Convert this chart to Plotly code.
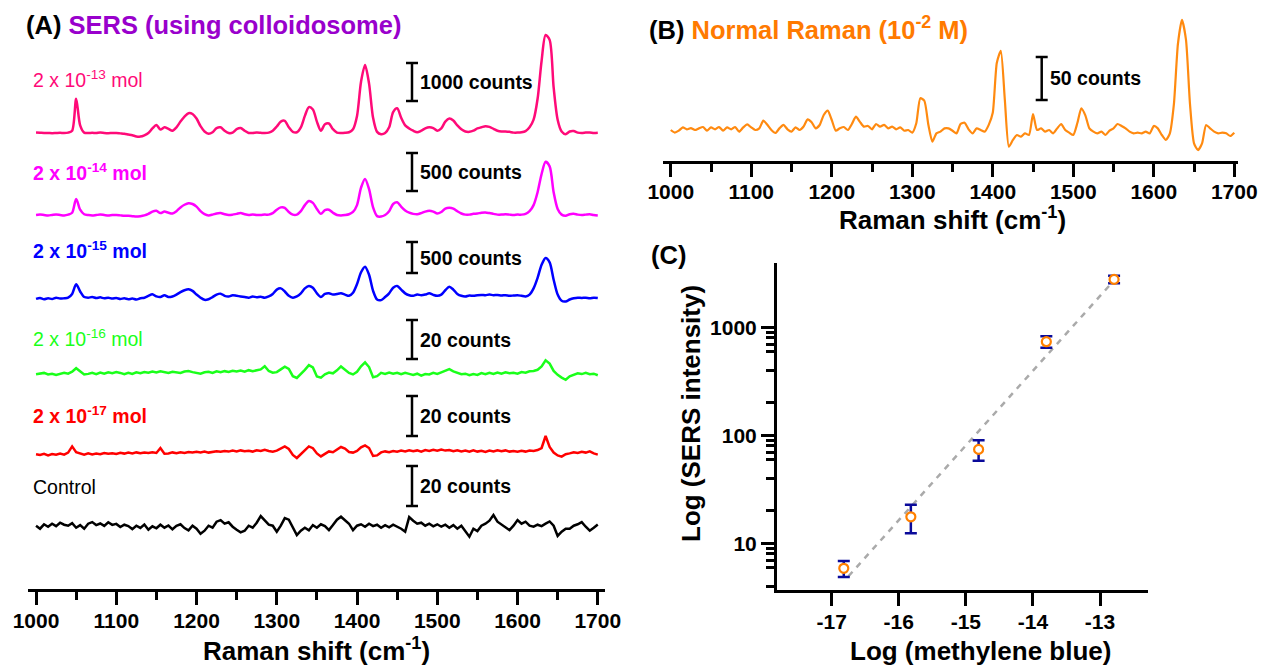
import numpy as np
import plotly.graph_objects as go

W, H = 1263, 666
FONT = "Liberation Sans, Arial, sans-serif"

# ---------------- data ----------------
raman_shift = list(range(1000, 1701, 5))

sers_2e13 = [
    10, 5, 0, 0, -5, 0, 5, 0, 10, 60,
    900, 200, 10, 0, 5, 0, 10, 0, -5, 0,
    0, -10, -20, -40, -60, -90, -95, -60, 0, 120,
    210, 90, 150, 110, 60, 150, 300, 430, 520, 500,
    380, 180, 40, -20, 20, 130, 150, 60, 0, 10,
    100, 130, 60, 0, 0, 10, 5, 0, 10, 60,
    170, 300, 320, 150, 30, 20, 150, 450, 680, 620,
    300, 60, 230, 250, 100, 10, 0, 5, 20, 100,
    450, 1350, 1790, 1300, 400, 30, -30, 0, 150, 550,
    650, 400, 200, 120, 60, 20, 60, 120, 150, 130,
    60, 120, 300, 380, 330, 200, 100, 40, 30, 60,
    120, 150, 180, 160, 110, 60, 40, 40, 30, 10,
    10, 20, 50, 150, 350, 900, 1900, 2580, 2450, 1200,
    350, 40, -30, 40, 50, 10, 0, 10, 15, 0, 5,
]
sers_2e14 = [
    0, 5, 0, -5, 0, 5, 0, -5, 5, 30,
    210, 70, 10, 0, -5, 0, 5, 0, -5, 0,
    0, -5, -10, -10, -15, -20, -15, -5, 15, 45,
    55, 25, 45, 30, 20, 50, 100, 135, 155, 145,
    110, 50, 10, -5, 5, 20, 25, 10, 0, 5,
    15, 25, 10, 0, 5, 0, 0, 5, 5, 25,
    70, 100, 95, 40, 5, 5, 50, 130, 185, 160,
    80, 15, 65, 70, 30, 0, -5, 0, 10, 40,
    130, 360, 475, 340, 100, -15, -20, 0, 50, 145,
    168, 110, 60, 30, 15, 10, 25, 45, 55, 45,
    20, 40, 85, 96, 85, 50, 20, 5, 5, 15,
    20, 30, 33, 25, 15, 5, 5, 10, 5, 0,
    5, 5, 15, 50, 130, 300, 540, 700, 640, 300,
    80, 5, -10, 10, 15, 5, 0, 5, 10, 0, -5,
]
sers_2e15 = [
    -10, 5, -15, 0, -10, 10, -5, 0, 10, 70,
    225, 110, 20, 10, 20, 5, 15, 0, 10, -5,
    5, -10, 0, -15, -5, -20, 0, 10, 40, 65,
    30, 20, 50, 20, 30, 60, 100, 130, 145, 120,
    60, 10, -25, -15, 20, 60, 75, 40, 30, 50,
    40, 30, 20, 10, 30, 15, 25, 10, 30, 70,
    140, 160, 110, 40, 10, 30, 80, 160, 200, 170,
    80, 20, 70, 80, 60, 70, 80, 60, 40, 90,
    230, 420, 510, 380, 120, -20, -30, 20, 80, 170,
    200, 140, 80, 50, 40, 60, 50, 60, 80, 55,
    40, 60, 130, 187, 140, 70, 40, 30, 45, 40,
    50, 55, 50, 60, 50, 55, 45, 50, 40, 45,
    50, 40, 30, 60, 160, 330, 540, 650, 580, 300,
    60, -40, -50, -20, 0, 10, 5, 10, 0, 10, 5,
]
sers_2e16 = [
    -0.5, -0.3, 0.2, -0.6, -0.2, -0.8, -0.4, 0.3, -0.2, 0.8,
    2.6, 0.8, -0.6, -0.3, 0.2, -0.4, 0.4, -0.2, 0.5, 0.1,
    0.6, 0.2, -0.4, 0.3, -0.3, 0.5, 0.1, 0.7, 0.3, 0.9,
    0.4, 1.0, 0.5, 0.2, 0.8, 0.4, 0.2, 0.9, 1.2, 0.6,
    0.3, -0.2, 0.5, 0.8, 0.2, 1.0, 0.6, 1.1, 0.7, 1.3,
    0.9, 1.4, 0.8, 1.6, 1.1, 1.5, 2.0, 3.6, 1.2, 0.3,
    0.6, 2.0, 3.4, 2.2, -1.5, -2.4, -0.4, 1.8, 4.2, 3.0,
    -1.6, -2.2, -0.5, 0.4, 0.0, 1.5, 3.5, 2.0, 0.2, -0.6,
    0.8, 3.6, 5.6, 3.2, -2.0, -1.5, 0.2, -0.3, 0.4, -0.2,
    0.3, -0.5, 0.2, -0.3, -0.8, -0.2, -1.2, -0.4, -0.6, 0.2,
    -0.3, 0.5, 1.2, 2.1, 1.0, 0.2, -0.5, -0.2, -1.0, -0.4,
    -0.8, 0.1, -0.5, 0.3, -0.3, 0.4, -0.2, 0.5, 0.0, 0.3,
    -0.2, 0.6, 0.3, 1.0, 1.2, 1.8, 3.5, 6.7, 5.0, 1.2,
    -0.8, -2.2, -3.3, -1.5, -0.6, 0.0, -0.4, 0.2, -0.5, -0.2, -1.0,
]
sers_2e17 = [
    -0.6, -1.0, -0.4, -1.2, -0.5, -0.9, -0.3, -0.8, 0.2, 3.3,
    0.4, -0.4, -0.8, -0.2, -0.7, -0.3, -0.6, 0.0, -0.4, -0.1,
    -0.5, 0.1, -0.3, 0.2, -0.2, 0.3, -0.1, 0.2, 0.0, 0.4,
    0.0, 2.5, -0.4, -0.2, 0.3, -0.1, 0.4, 0.0, 0.5, 0.2,
    0.6, 0.3, 0.7, 0.2, 0.5, 0.9, 0.6, 1.0, 0.7, 1.2,
    0.8, 1.3, 0.9, 1.1, 0.7, 1.4, 1.0, 1.6, 1.0, 0.6,
    1.2, 2.4, 3.3, 2.0, -1.0, -2.5, -0.5, 1.5, 3.3, 2.4,
    -0.2, -1.7, -0.6, 0.8, 0.4, 1.5, 3.0, 2.2, 0.5, 0.2,
    1.0, 2.8, 3.8, 2.5, -1.5, -1.2, 0.3, 0.8, 0.4, 1.0,
    0.6, 1.2, 0.8, 1.4, 0.9, 1.3, 0.7, 1.5, 1.0, 1.6,
    1.1, 1.7, 1.2, 1.5, 0.9, 1.4, 0.8, 1.2, 0.6, 1.3,
    0.7, 1.1, 0.5, 1.2, 0.8, 1.4, 0.9, 1.3, 0.7, 1.0,
    0.6, 1.1, 0.7, 1.2, 1.0, 1.5, 2.5, 8.5, 3.0, 0.2,
    -1.2, -1.8, -0.6, -0.2, 0.4, 0.0, 0.6, 0.2, 0.8, -0.2, -0.8,
]
sers_control = [
    0.5, -1.0, 1.2, 0.0, 1.5, 0.3, 2.0, 1.0, 0.5, 1.8,
    -0.5, 0.8, -1.0, 1.5, 2.3, 0.8, 1.6, 0.4, 2.2, 0.9,
    1.4, -0.2, 1.0, 0.3, -1.2, 0.5, -0.6, 1.1, -1.5, 0.2,
    -0.8, 1.0, -0.5, 0.6, -1.3, 0.4, 1.2, -0.7, -1.8, 0.5,
    -1.0, -3.5, -2.0, 0.5, -0.5, 2.5, 3.3, 1.5, 2.2, 0.0,
    -1.5, -2.8, -2.0, 0.5, -0.5, 2.0, 5.3, 3.0, 1.0, 0.5,
    -2.5, 0.5, 4.3, 3.5, 0.0, -4.2, -2.0, -0.5, -1.8, 0.8,
    -0.5, 1.2, 0.3, -1.7, 0.8, 3.5, 5.0, 3.0, 1.5, -1.7,
    0.5, 1.2, 0.0, 1.5, 0.3, 1.0, -0.5, 0.8, -0.3, 1.0,
    0.0, -1.0, -2.5, 4.8, 3.0, 1.5, 2.0, 0.5, 1.5, 0.2,
    1.2, 0.0, 1.0, -0.5, 0.8, -1.0, 0.5, -2.0, -5.0, -1.0,
    -2.2, 0.5, 1.5, 3.0, 5.8, 2.5, 1.0, -0.5, -1.7, 0.5,
    3.3, 1.5, 2.5, 0.5, 0.0, 1.0, 0.3, 1.5, 2.6, 0.5,
    -4.6, -2.5, -1.0, -1.0, 0.5, 1.2, 2.3, 0.0, -2.0, -0.5, 1.1,
]
normal_raman = [
    0, -3.0, -0.8, 3.0, 0.8, 2.2, 0, 1.9, 3.5, -0.8,
    3.0, 0.8, 3.5, -0.8, 3.1, 0.8, 3.5, -1.9, 3.0, 6.5,
    3.0, 0, 1.9, 10.9, 6.0, 0, -3.5, 1.9, 6.0, 0.8,
    -1.9, 3.0, 0, 4.0, 12.4, 9.0, 1.9, 5.8, 17.4, 22.5,
    11.6, -0.8, 1.9, 3.5, 0, 7.0, 15.5, 9.5, 3.9, 4.7,
    0.8, 7.0, 3.9, 6.0, 1.9, 3.9, 0.8, 3.1, -0.8, 0,
    -3.1, 7.8, 37, 34, 6.0, -13.6, -3.9, -1.9, 1.9, 1.9,
    -0.8, -3.9, 7.0, 8.5, 0.8, -3.9, 1.9, 0, -1.9, 6.0,
    20.0, 78, 92, 35, -19.4, -11.6, -5.8, -7.8, -3.9, -5.8,
    18.6, 0, 1.9, -1.9, 0, -3.9, 1.9, 7.0, 0, -3.1,
    -5.8, 7.8, 25.2, 17.0, 1.9, -1.9, -3.9, -1.9, -5.8, -0.8,
    1.9, 7.0, 4.7, 1.9, -1.9, -3.9, -3.1, -3.9, -1.9, -3.9,
    4.7, 1.9, -5.8, -11.6, -3.9, 30.0, 100.0, 128, 105.0, 30.0,
    -15.5, -23.3, -15.5, 5.8, 1.9, -1.9, -3.9, -3.1, -3.9, -7.0, -3.1,
]

sers_series = [sers_2e13, sers_2e14, sers_2e15, sers_2e16, sers_2e17, sers_control]
trace_labels = ["2 x 10<sup>-13</sup> mol", "2 x 10<sup>-14</sup> mol", "2 x 10<sup>-15</sup> mol",
                "2 x 10<sup>-16</sup> mol", "2 x 10<sup>-17</sup> mol", "Control"]
trace_colors = ["#FF0A78", "#FF00FF", "#0000FF", "#1AFF1A", "#FF0000", "#000000"]
trace_bold = [False, True, True, False, True, False]
scale_bar_counts = [1000, 500, 500, 20, 20, 20]
normal_scale_counts = 50

log_conc = [-16.82, -15.82, -14.81, -13.80, -12.79]
sers_intensity = [5.87, 17.6, 74.1, 736, 2780]
sers_sd = [1.0, 5.2, 16, 90, 225]

# ---------------- layout helpers ----------------
def fx(p):
    return p / W

def fy(p):
    return 1 - p / H

# (top px, bottom px, baseline px, scale-bar length px, scale-bar bottom px, label centre px)
row_geom = [
    (25, 140, 133.0, 38, 101, 79),
    (145, 222, 215.0, 38, 191, 172),
    (228, 308, 298.3, 31, 273, 250),
    (312, 388, 373.3, 39, 359, 338),
    (392, 466, 453.0, 40, 436, 415),
    (462, 545, 526.7, 40, 506, 487),
]

fig = go.Figure()
layout_axes = {}
shapes = []
annotations = []

BAR_X = 412
CAP = 6

def bold_font(size, color="black", bold=True):
    return dict(family=FONT, size=size, color=color, weight="bold" if bold else "normal")

for k, (T, B, base, barpx, barbot, labc) in enumerate(row_geom):
    cpp = scale_bar_counts[k] / barpx
    yname = "yaxis" if k == 0 else f"yaxis{k+1}"
    yref = "y" if k == 0 else f"y{k+1}"
    layout_axes[yname] = dict(domain=[fy(B), fy(T)], range=[-(B - base) * cpp, (base - T) * cpp],
                              visible=False, anchor="x", fixedrange=True, automargin=False)
    fig.add_trace(go.Scatter(
        x=raman_shift, y=sers_series[k], xaxis="x", yaxis=yref, mode="lines",
        line=dict(color=trace_colors[k], width=2.5,
                  shape="spline" if k < 3 else "linear", smoothing=0.8),
        showlegend=False, hoverinfo="skip"))
    y0 = (base - barbot) * cpp
    y1 = y0 + scale_bar_counts[k]
    shapes.append(dict(type="line", xref="paper", yref=yref, x0=fx(BAR_X), x1=fx(BAR_X),
                       y0=y0, y1=y1, line=dict(color="black", width=2.5)))
    for yy in (y0, y1):
        shapes.append(dict(type="line", xref="paper", yref=yref, x0=fx(BAR_X - CAP),
                           x1=fx(BAR_X + CAP), y0=yy, y1=yy, line=dict(color="black", width=2.5)))
    annotations.append(dict(text=f"{scale_bar_counts[k]} counts", xref="paper", yref=yref,
                            x=fx(418), y=(y0 + y1) / 2, xanchor="left", yanchor="middle",
                            showarrow=False, font=bold_font(19.5)))
    annotations.append(dict(text=trace_labels[k], xref="paper", yref="paper", x=fx(31),
                            y=fy(labc), xanchor="left", yanchor="middle", showarrow=False,
                            font=bold_font(19.5, trace_colors[k], trace_bold[k])))

axis_common = dict(showline=True, linecolor="black", linewidth=2.5, ticks="outside",
                   ticklen=13, tickwidth=2.5, tickcolor="black", showgrid=False,
                   zeroline=False, fixedrange=True, tickfont=bold_font(21), automargin=False)

layout_axes["xaxis"] = dict(domain=[fx(28), fx(605)], range=[990, 1709], anchor="free",
                            position=fy(590), tick0=1000, dtick=100, ticklabelstandoff=-2,
                            minor=dict(ticks="outside", ticklen=8, tickwidth=2.5,
                                       tickcolor="black", tick0=1000, dtick=50),
                            **axis_common)

# ---- panel B ----
B_TOP, B_BOT, B_BASE, B_BARPX, B_BARBOT = 10, 161, 130, 43, 100
cppB = normal_scale_counts / B_BARPX
layout_axes["xaxis2"] = dict(domain=[fx(662.7), fx(1238.3)], range=[990, 1705], anchor="y7",
                             tick0=1000, dtick=100, ticklabelstandoff=-3,
                             minor=dict(ticks="outside", ticklen=8, tickwidth=2.5,
                                        tickcolor="black", tick0=1000, dtick=50),
                             **axis_common)
layout_axes["yaxis7"] = dict(domain=[fy(B_BOT), fy(B_TOP)],
                             range=[-(B_BOT - B_BASE) * cppB, (B_BASE - B_TOP) * cppB],
                             visible=False, anchor="x2", fixedrange=True, automargin=False)
fig.add_trace(go.Scatter(x=raman_shift, y=normal_raman, xaxis="x2", yaxis="y7", mode="lines",
                         line=dict(color="#FF8A10", width=2.2, shape="spline", smoothing=0.6),
                         showlegend=False, hoverinfo="skip"))
yb0 = (B_BASE - B_BARBOT) * cppB
yb1 = yb0 + normal_scale_counts
BXB = 1041.7
shapes.append(dict(type="line", xref="paper", yref="y7", x0=fx(BXB), x1=fx(BXB), y0=yb0, y1=yb1,
                   line=dict(color="black", width=2.5)))
for yy in (yb0, yb1):
    shapes.append(dict(type="line", xref="paper", yref="y7", x0=fx(BXB - CAP), x1=fx(BXB + CAP),
                       y0=yy, y1=yy, line=dict(color="black", width=2.5)))
annotations.append(dict(text=f"{normal_scale_counts} counts", xref="paper", yref="y7",
                        x=fx(1048), y=(yb0 + yb1) / 2 + 1, xanchor="left", yanchor="middle",
                        showarrow=False, font=bold_font(19.5)))

# ---- panel C ----
coef = np.polyfit(log_conc, np.log10(sers_intensity), 1)
fit_x = np.array([log_conc[0] + 0.07, log_conc[-1]])
fit_y = 10 ** np.polyval(coef, fit_x)
fig.add_trace(go.Scatter(x=fit_x, y=fit_y, xaxis="x3", yaxis="y8", mode="lines",
                         line=dict(color="#AAAAAA", width=2.5, dash="6px,6px"),
                         showlegend=False, hoverinfo="skip"))
fig.add_trace(go.Scatter(x=log_conc, y=sers_intensity, xaxis="x3", yaxis="y8", mode="markers",
                         marker=dict(symbol="circle", size=9, color="white",
                                     line=dict(color="#FF8000", width=2.2)),
                         error_y=dict(type="data", array=sers_sd, visible=True,
                                      color="#0A0A9A", thickness=2.5, width=6),
                         showlegend=False, hoverinfo="skip"))

minor_log = [4, 6, 7, 8, 9, 20, 40, 60, 70, 80, 90, 200, 400, 600, 700, 800, 900]
layout_axes["xaxis3"] = dict(domain=[fx(776.7), fx(1148.3)], range=[-17.82, -12.28],
                             anchor="y8", tickvals=[-17, -16, -15, -14, -13],
                             ticktext=["-17", "-16", "-15", "-14", "-13"], ticklabelstandoff=-2,
                             **axis_common)
layout_axes["yaxis8"] = dict(type="log", domain=[fy(590), fy(263.3)], range=[0.568, 3.593],
                             anchor="x3", tickvals=[10, 100, 1000],
                             ticktext=["10", "100", "1000"],
                             minor=dict(ticks="outside", ticklen=8, tickwidth=2.5,
                                        tickcolor="black", tickvals=minor_log),
                             **axis_common)

# ---- headers and titles ----
annotations += [
    dict(text="(A) <span style='color:#9900CC'>SERS (using colloidosome)</span>", xref="paper",
         yref="paper", x=fx(24), y=fy(25), xanchor="left", yanchor="middle", showarrow=False,
         font=bold_font(25.5)),
    dict(text="(B) <span style='color:#FF7A00'>Normal Raman (10<sup>-2</sup> M)</span>",
         xref="paper", yref="paper", x=fx(647), y=fy(28), xanchor="left", yanchor="middle",
         showarrow=False, font=bold_font(25.5)),
    dict(text="(C)", xref="paper", yref="paper", x=fx(649), y=fy(255), xanchor="left",
         yanchor="middle", showarrow=False, font=bold_font(25.5)),
    dict(text="Raman shift (cm<sup>-1</sup>)", xref="paper", yref="paper", x=fx(316.5),
         y=fy(649), xanchor="center", yanchor="middle", showarrow=False, font=bold_font(26)),
    dict(text="Raman shift (cm<sup>-1</sup>)", xref="paper", yref="paper", x=fx(952),
         y=fy(218), xanchor="center", yanchor="middle", showarrow=False, font=bold_font(26)),
    dict(text="Log (methylene blue)", xref="paper", yref="paper", x=fx(980), y=fy(651),
         xanchor="center", yanchor="middle", showarrow=False, font=bold_font(26)),
    dict(text="Log (SERS intensity)", xref="paper", yref="paper", x=fx(691), y=fy(414),
         xanchor="center", yanchor="middle", showarrow=False, textangle=-90,
         font=bold_font(26)),
]

fig.update_layout(width=W, height=H, autosize=False, margin=dict(l=0, r=0, t=0, b=0, pad=0),
                  paper_bgcolor="white", plot_bgcolor="white", showlegend=False,
                  shapes=shapes, annotations=annotations, font=dict(family=FONT),
                  **layout_axes)

fig.write_html("out.html", config={"displayModeBar": False, "responsive": False},
               post_script="document.body.style.margin='0px';document.body.style.overflow='hidden';")
